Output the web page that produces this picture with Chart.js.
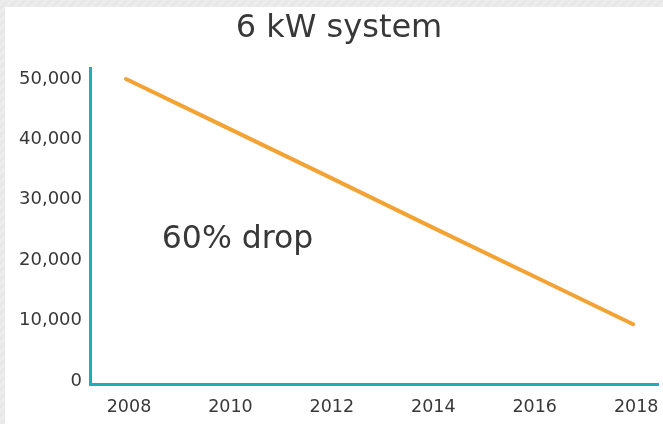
<!DOCTYPE html>
<html>
<head>
<meta charset="utf-8">
<script src="https://cdn.jsdelivr.net/npm/chart.js@4"></script>
<style>
  html, body { margin: 0; padding: 0; }
  body {
    width: 663px; height: 424px; overflow: hidden;
    background: repeating-linear-gradient(135deg, #e6e6e6 0px, #eeeeee 3px, #e6e6e6 6px);
  }
  #panel {
    position: absolute; left: 5px; top: 7px; width: 658px; height: 417px;
    background: #ffffff;
  }
  canvas { display: block; }
</style>
</head>
<body>
<div id="panel"><canvas id="c" width="658" height="417"></canvas></div>
<script>
// Cost of a 6 kW system, by year
const years = [2008, 2010, 2012, 2014, 2016, 2018];
const costs = [50000, 41900, 33800, 25600, 17500, 9400];
const yTicks = [0, 10000, 20000, 30000, 40000, 50000];
const chartTitle = '6 kW system';
const noteText = '60% drop';

const TEAL = '#1eaeb9';
const ORANGE = '#f3a234';
const INK = '#383838';
const FONT = "'DejaVu Sans', 'Noto Sans', sans-serif";

// Title above the plot and the note inside it
const textPlugin = {
  id: 'texts',
  afterDraw(chart) {
    const { ctx, scales } = chart;
    ctx.save();
    ctx.fillStyle = INK;
    ctx.textAlign = 'center';
    ctx.textBaseline = 'alphabetic';
    ctx.font = '400 32px ' + FONT;
    ctx.fillText(chartTitle, 334, 30);
    ctx.font = '400 31.5px ' + FONT;
    ctx.fillText(noteText, scales.x.getPixelForValue(2010.2), scales.y.getPixelForValue(22000));
    ctx.restore();
  }
};

new Chart(document.getElementById('c'), {
  type: 'line',
  data: {
    datasets: [{
      data: years.map((y, i) => ({ x: y, y: costs[i] })),
      borderColor: ORANGE,
      borderWidth: 4,
      borderCapStyle: 'round',
      pointRadius: 0,
      tension: 0,
      fill: false
    }]
  },
  options: {
    responsive: false,
    animation: false,
    layout: { padding: { top: 61, right: 5, left: 0, bottom: 0 } },
    plugins: { legend: { display: false }, tooltip: { enabled: false } },
    scales: {
      x: {
        type: 'linear',
        min: 2007.29,
        max: 2018.49,
        afterFit(s) { s.height = 40; s.paddingLeft = 0; s.paddingRight = 0; },
        afterBuildTicks(s) { s.ticks = years.map(v => ({ value: v })); },
        grid: { display: false, drawTicks: false },
        border: { display: true, color: TEAL, width: 3 },
        ticks: {
          padding: 13,
          labelOffset: 3,
          color: INK,
          font: { family: FONT, size: 17.5 },
          callback: v => String(v),
          maxRotation: 0,
          autoSkip: false
        }
      },
      y: {
        min: -500,
        max: 51820,
        afterFit(s) { s.width = 85; s.paddingTop = 0; s.paddingBottom = 0; },
        afterBuildTicks(s) { s.ticks = yTicks.map(v => ({ value: v })); },
        grid: { display: false, drawTicks: false },
        border: { display: true, color: TEAL, width: 3 },
        ticks: {
          padding: 8,
          color: INK,
          font: { family: FONT, size: 18 },
          callback: v => v.toLocaleString('en-US')
        }
      }
    }
  },
  plugins: [textPlugin]
});
</script>
</body>
</html>
